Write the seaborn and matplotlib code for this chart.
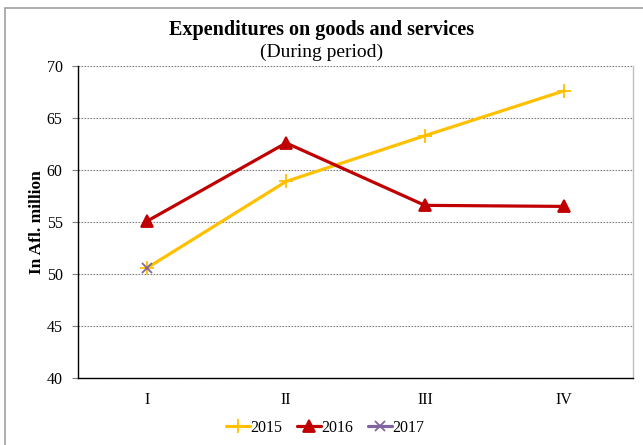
import numpy as np
import pandas as pd
import matplotlib
matplotlib.use("Agg")
import matplotlib.pyplot as plt
import seaborn as sns
from matplotlib.patches import Rectangle

quarters = ["I", "II", "III", "IV"]
y2015 = [50.6, 58.9, 63.3, 67.6]
y2016 = [55.1, 62.6, 56.6, 56.5]
y2017 = [50.6, np.nan, np.nan, np.nan]

df = pd.DataFrame({
    "quarter": quarters * 3,
    "value": y2015 + y2016 + y2017,
    "year": ["2015"] * 4 + ["2016"] * 4 + ["2017"] * 4,
})
df["pos"] = np.tile(np.arange(len(quarters)), 3)

sns.set_style("white")
plt.rcParams["font.family"] = ["Liberation Serif", "DejaVu Serif"]
plt.rcParams["text.color"] = "black"
plt.rcParams["axes.labelcolor"] = "black"

fig = plt.figure(figsize=(6.43, 4.45), dpi=100)
ax = fig.add_axes([78 / 643, 1 - 378 / 445, (633 - 78) / 643, (378 - 66) / 445])

palette = {"2015": "#FFC000", "2016": "#C00000", "2017": "#8064A2"}
markers = {"2015": "+", "2016": "^", "2017": "x"}
sizes = {"2015": 10, "2016": 8, "2017": 7}

for yr in ["2015", "2016", "2017"]:
    sub = df[df["year"] == yr]
    sns.lineplot(data=sub, x="pos", y="value", ax=ax, color=palette[yr],
                 marker=markers[yr], markersize=sizes[yr], linewidth=2.3,
                 markeredgewidth=1.3, markeredgecolor=palette[yr], label=yr)

ax.set_xlim(-0.5, 3.5)
ax.set_ylim(40, 70)
ax.set_xticks(range(len(quarters)))
ax.set_xticklabels(quarters)
ax.set_yticks(range(40, 71, 5))
ax.tick_params(axis="y", labelsize=11.5, length=4, color="#808080",
               labelcolor="black", left=True, pad=7)
ax.tick_params(axis="x", labelsize=11.5, length=0, pad=10, labelcolor="black")
ax.set_xlabel("")
ax.set_ylabel("In Afl. million", fontsize=12.5, fontweight="bold", labelpad=1)

ax.yaxis.grid(True, linestyle=(0, (1.5, 1.2)), color="#808080", linewidth=0.8)
ax.set_axisbelow(True)
for s in ["left", "bottom"]:
    ax.spines[s].set_color("black")
    ax.spines[s].set_linewidth(1.0)
ax.spines["top"].set_visible(False)
ax.spines["right"].set_color("#C0C0C0")
ax.spines["right"].set_linewidth(1.0)

fig.text(0.5, 1 - 30 / 445, "Expenditures on goods and services", ha="center",
         va="center", fontsize=14.5, fontweight="bold")
fig.text(0.5, 1 - 52 / 445, "(During period)", ha="center", va="center", fontsize=14)

ax.legend(loc="center", bbox_to_anchor=((325 - 78) / 555, (378 - 428) / 312), ncol=3,
          frameon=False, fontsize=11.5, handlelength=1.5, handletextpad=0.05,
          columnspacing=0.9, borderpad=0)

fig.patches.append(Rectangle((5 / 643, -0.1), 2, 1 - 8 / 445 + 0.1,
                             transform=fig.transFigure, fill=False,
                             edgecolor="#A0A0A0", linewidth=1.2))

fig.savefig("out.png", dpi=100)
